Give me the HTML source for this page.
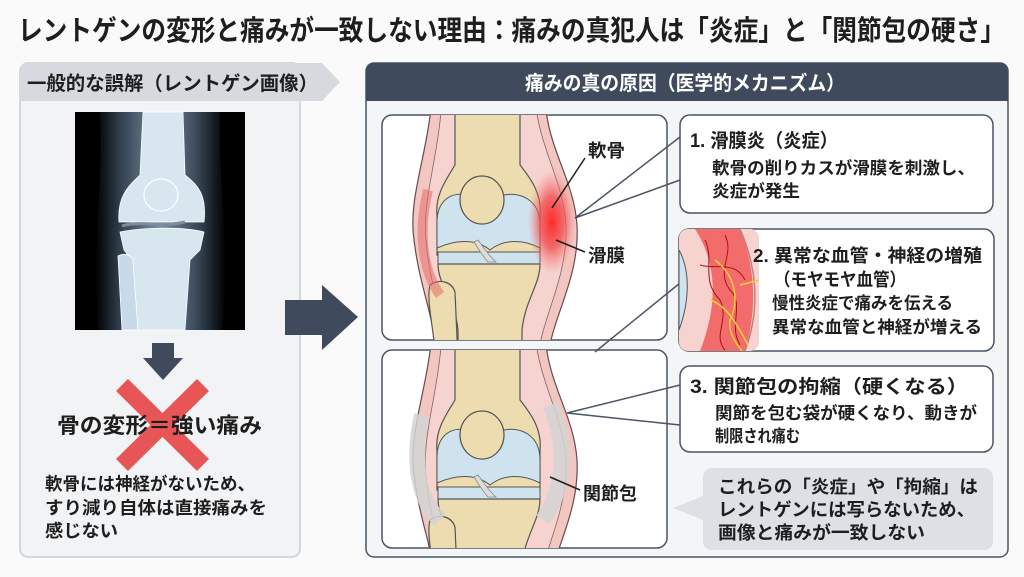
<!DOCTYPE html>
<html><head><meta charset="utf-8"><style>
html,body{margin:0;padding:0;background:#fafafa;}
body{width:1024px;height:572px;overflow:hidden;font-family:"Liberation Sans","Noto Sans CJK JP",sans-serif;}
svg text{font-family:"Liberation Sans","Noto Sans CJK JP",sans-serif;font-weight:bold;fill:#1e1e1e;}
</style></head><body>
<svg width="1024" height="572" viewBox="0 0 1024 572" xmlns="http://www.w3.org/2000/svg">
<defs>
 <radialGradient id="inf" cx="0.5" cy="0.5" r="0.5">
  <stop offset="0" stop-color="#ff2a2a"/><stop offset="0.5" stop-color="#f05050" stop-opacity="0.8"/><stop offset="1" stop-color="#f08080" stop-opacity="0"/>
 </radialGradient>
 <linearGradient id="leg" x1="0" x2="1">
  <stop offset="0" stop-color="#000"/><stop offset="0.2" stop-color="#3a4a5a"/><stop offset="0.5" stop-color="#8aa0b4"/><stop offset="0.8" stop-color="#3a4a5a"/><stop offset="1" stop-color="#000"/>
 </linearGradient>
 <clipPath id="c1"><rect x="382" y="115" width="285" height="225" rx="10"/></clipPath>
 <clipPath id="c2"><rect x="382" y="350" width="285" height="198" rx="10"/></clipPath>
 <clipPath id="c3"><rect x="679" y="229" width="80" height="122" rx="9"/></clipPath>
 <g id="knee">
  <path d="M432,100 C426,160 408,200 414,240 C420,290 436,320 436,360 L548,360 C550,320 580,280 577,225 C574,180 548,150 545,100 Z" fill="#f2c7c2" stroke="#6a4a4a" stroke-width="1.2"/>
  <path d="M442,100 C438,160 422,200 426,240 C430,290 446,320 446,360 L538,360 C540,320 568,280 566,225 C563,180 540,150 535,100 Z" fill="#f6d3cf" stroke="#8a6060" stroke-width="0.8"/>
  <path d="M455,100 L520,100 L520,165 C532,180 542,195 540,215 L540,255 L437,255 L437,215 C435,195 446,180 455,165 Z" fill="#ecdcb0" stroke="#555" stroke-width="1.2"/>
  <path d="M437,225 C436,200 452,190 470,196 L500,196 C520,190 540,200 540,225 L540,248 C525,240 505,238 490,250 C475,238 455,240 437,248 Z" fill="#cfe3ee" stroke="#555" stroke-width="1"/>
  <ellipse cx="482" cy="200" rx="22" ry="24" fill="#ecdcb0" stroke="#555" stroke-width="1.2"/>
  <path d="M438,252 L540,252 L540,264 L438,264 Z" fill="#cfe3ee" stroke="#555" stroke-width="1"/>
  <path d="M478,240 C484,248 488,255 496,262 L488,262 C482,255 478,248 474,242 Z" fill="#ddd" stroke="#888" stroke-width="0.8"/>
  <path d="M438,264 L540,264 C540,285 525,300 522,330 L522,360 L458,360 L458,330 C455,300 438,285 438,264 Z" fill="#ecdcb0" stroke="#555" stroke-width="1.2"/>
  <path d="M430,285 C440,278 452,282 455,292 L458,360 L436,360 C434,330 426,300 430,285 Z" fill="#ecdcb0" stroke="#555" stroke-width="1.2"/>
 </g>
</defs>

<text x="18" y="40" font-size="28" textLength="987" lengthAdjust="spacingAndGlyphs">レントゲンの変形と痛みが一致しない理由：痛みの真犯人は「炎症」と「関節包の硬さ」</text>

<rect x="20" y="63" width="280" height="494" rx="8" fill="#f1f3f5" stroke="#c9cdd2" stroke-width="1.5"/>
<path d="M28,63 L322,63 L340,82 L322,101 L20,101 L20,71 Q20,63 28,63 Z" fill="#d6d9dd"/>
<text x="27" y="90" font-size="19.5" textLength="291" lengthAdjust="spacingAndGlyphs">一般的な誤解（レントゲン画像）</text>
<rect x="75" y="112" width="170" height="218" fill="#000"/>
<path d="M100,112 L220,112 C218,200 232,240 222,330 L98,330 C90,240 104,200 100,112 Z" fill="url(#leg)" opacity="0.9"/>
<path d="M143,112 L183,112 L185,175 C198,185 207,195 204,222 L119,222 C117,195 130,185 140,175 Z" fill="#d8e6f0" stroke="#fff" stroke-width="0.8"/>
<ellipse cx="161" cy="195" rx="17" ry="16" fill="#d8e6f0" stroke="#fff" stroke-width="1.2"/>
<path d="M120,232 C140,228 180,226 204,232 L200,250 L190,260 L185,330 L135,330 L132,260 L124,250 Z" fill="#d8e6f0" stroke="#fff" stroke-width="0.8"/>
<path d="M118,256 C126,252 133,256 133,262 L138,330 L122,330 Z" fill="#c8dae8" stroke="#fff" stroke-width="0.8"/>
<path d="M122,226 C140,220 160,228 185,222" stroke="#7a8e9e" stroke-width="3" fill="none"/>
<path d="M152,343 L174,343 L174,358 L183,358 L163,380 L143,358 L152,358 Z" fill="#3f4b5c"/>
<g stroke="#e84545" stroke-width="17" opacity="0.9"><line x1="122" y1="385" x2="203" y2="465"/><line x1="203" y1="385" x2="122" y2="465"/></g>
<text x="57" y="433" font-size="21.5" textLength="205" lengthAdjust="spacingAndGlyphs">骨の変形＝強い痛み</text>
<text x="45" y="490" font-size="17.5" textLength="210" lengthAdjust="spacingAndGlyphs">軟骨には神経がないため、</text>
<text x="45" y="514" font-size="17.5" textLength="222" lengthAdjust="spacingAndGlyphs">すり減り自体は直接痛みを</text>
<text x="45" y="537" font-size="17.5" textLength="73" lengthAdjust="spacingAndGlyphs">感じない</text>

<path d="M285,300 L322,300 L322,285 L358,317 L322,350 L322,335 L285,335 Z" fill="#3f4b5c"/>

<rect x="366" y="63" width="642" height="494" rx="8" fill="#f4f5f6" stroke="#4a5565" stroke-width="1.5"/>
<path d="M374,63 L1000,63 Q1008,63 1008,71 L1008,101 L366,101 L366,71 Q366,63 374,63 Z" fill="#3f4b5c"/>
<text x="525" y="90" font-size="20" textLength="320" lengthAdjust="spacingAndGlyphs" style="fill:#fff">痛みの真の原因（医学的メカニズム）</text>

<rect x="382" y="115" width="285" height="225" rx="10" fill="#fff" stroke="#4a5565" stroke-width="1.5"/>
<g clip-path="url(#c1)">
 <use href="#knee"/>
 <ellipse cx="552" cy="222" rx="24" ry="52" fill="url(#inf)"/>
 <path d="M428,190 C418,230 422,270 440,295" stroke="#e86a6a" stroke-width="10" fill="none" opacity="0.55"/>
</g>
<rect x="382" y="350" width="285" height="198" rx="10" fill="#fff" stroke="#4a5565" stroke-width="1.5"/>
<g clip-path="url(#c2)">
 <use href="#knee" transform="translate(0,235)"/>
 <path d="M422,415 C412,460 418,500 440,520 M550,405 C570,450 563,490 543,520" stroke="#d4d4d4" stroke-width="16" fill="none" opacity="0.85"/>
</g>
<g stroke="#1e1e1e" stroke-width="1.5"><line x1="585" y1="158" x2="552" y2="208"/><line x1="585" y1="252" x2="556" y2="240"/><line x1="580" y1="490" x2="550" y2="477"/></g>
<text x="588" y="157" font-size="18" textLength="37" lengthAdjust="spacingAndGlyphs">軟骨</text>
<text x="588" y="262" font-size="18" textLength="37" lengthAdjust="spacingAndGlyphs">滑膜</text>
<text x="583" y="500" font-size="18" textLength="54" lengthAdjust="spacingAndGlyphs">関節包</text>
<g stroke="#4a5565" stroke-width="1.5" fill="none">
 <path d="M680,137 L575,218 L680,180"/>
 <path d="M595,352 L680,283"/>
 <path d="M680,385 L567,413 L680,425"/>
</g>

<rect x="680" y="115" width="313" height="98" rx="10" fill="#fff" stroke="#4a5565" stroke-width="1.5"/>
<text x="690" y="147" font-size="19" textLength="148" lengthAdjust="spacingAndGlyphs">1. 滑膜炎（炎症）</text>
<text x="712" y="174" font-size="17" textLength="263" lengthAdjust="spacingAndGlyphs">軟骨の削りカスが滑膜を刺激し、</text>
<text x="712" y="197" font-size="17" textLength="88" lengthAdjust="spacingAndGlyphs">炎症が発生</text>

<rect x="679" y="229" width="315" height="122" rx="10" fill="#fff" stroke="#4a5565" stroke-width="1.5"/>
<g clip-path="url(#c3)">
 <rect x="679" y="229" width="80" height="122" fill="#f6d3cf"/>
 <path d="M679,250 C690,270 690,300 679,330 Z" fill="#cfe3ee" stroke="#555"/>
 <path d="M695,229 C715,260 720,300 700,351 L745,351 C760,300 752,260 740,229 Z" fill="#f04a4a" opacity="0.75"/>
 <path d="M740,229 C758,270 760,310 745,351" stroke="#c08080" stroke-width="1.5" fill="none"/>
 <g stroke="#b01010" stroke-width="1" fill="none"><path d="M705,240 C715,260 700,280 720,300 C730,320 712,335 725,350"/><path d="M725,235 C735,255 715,270 730,290 C745,305 728,325 740,345"/><path d="M700,265 C715,270 735,260 745,280"/></g>
 <g stroke="#f2cf3a" stroke-width="1.5" fill="none"><path d="M715,260 C735,275 740,300 730,320 C728,335 738,345 742,351"/><path d="M710,300 C725,305 735,320 748,345"/><path d="M740,285 L760,280"/></g>
</g>
<text x="753" y="262" font-size="18" textLength="229" lengthAdjust="spacingAndGlyphs">2. 異常な血管・神経の増殖</text>
<text x="774" y="286" font-size="18" textLength="132" lengthAdjust="spacingAndGlyphs">（モヤモヤ血管）</text>
<text x="772" y="309" font-size="17" textLength="181" lengthAdjust="spacingAndGlyphs">慢性炎症で痛みを伝える</text>
<text x="772" y="333" font-size="17" textLength="210" lengthAdjust="spacingAndGlyphs">異常な血管と神経が増える</text>

<rect x="680" y="366" width="313" height="86" rx="10" fill="#fff" stroke="#4a5565" stroke-width="1.5"/>
<text x="690" y="393" font-size="19" textLength="278" lengthAdjust="spacingAndGlyphs">3. 関節包の拘縮（硬くなる）</text>
<text x="715" y="419" font-size="17" textLength="262" lengthAdjust="spacingAndGlyphs">関節を包む袋が硬くなり、動きが</text>
<text x="715" y="442" font-size="17" textLength="85" lengthAdjust="spacingAndGlyphs">制限され痛む</text>

<path d="M713,468 L983,468 Q993,468 993,478 L993,540 Q993,550 983,550 L713,550 Q703,550 703,540 L703,520 L673,508 L703,496 L703,478 Q703,468 713,468 Z" fill="#dde0e4"/>
<text x="718" y="493" font-size="18" textLength="260" lengthAdjust="spacingAndGlyphs">これらの「炎症」や「拘縮」は</text>
<text x="718" y="516" font-size="18" textLength="257" lengthAdjust="spacingAndGlyphs">レントゲンには写らないため、</text>
<text x="718" y="539" font-size="18" textLength="207" lengthAdjust="spacingAndGlyphs">画像と痛みが一致しない</text>
</svg>
</body></html>
